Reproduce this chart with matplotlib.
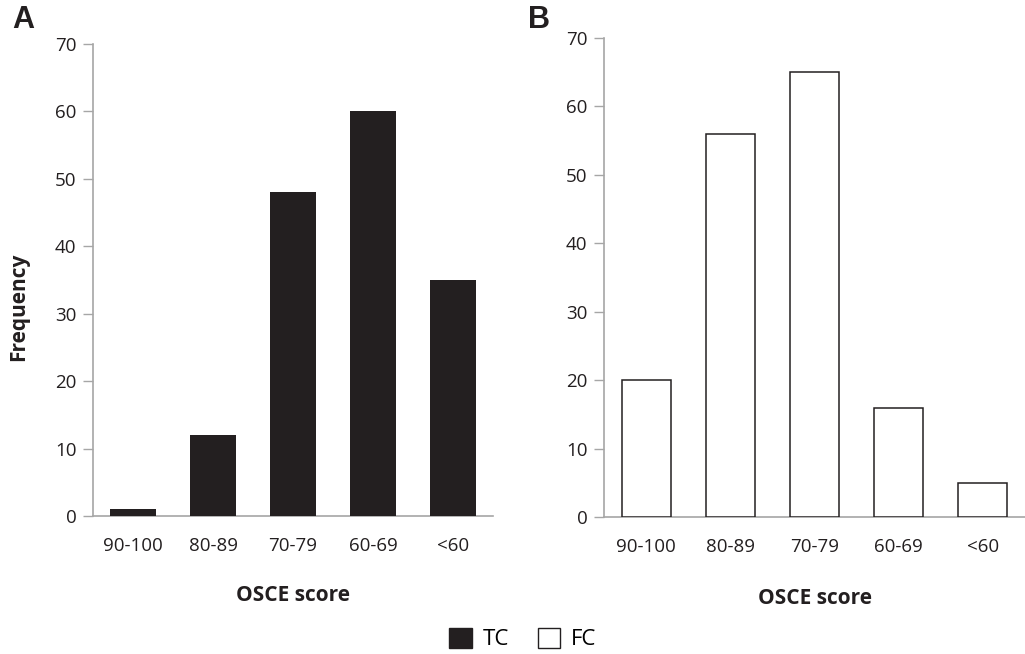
import matplotlib.pyplot as plt

# OSCE score categories and frequencies
categories = ['90-100', '80-89', '70-79', '60-69', '<60']
tc_freq = [1, 12, 48, 60, 35]
fc_freq = [20, 56, 65, 16, 5]
yticks = [0, 10, 20, 30, 40, 50, 60, 70]

plt.rcParams['font.family'] = ['Open Sans', 'DejaVu Sans']
dark = '#231f20'
grey = '#a6a6a6'

fig = plt.figure(figsize=(10.25, 6.54), dpi=100)
W, H = 1025, 654


def make_axes(left, right, top, bottom):
    return fig.add_axes([left / W, 1 - bottom / H, (right - left) / W, (bottom - top) / H])


def style(ax):
    ax.set_xlim(-0.5, 4.5)
    ax.set_ylim(0, 70)
    ax.set_yticks(yticks)
    ax.set_xticks(range(len(categories)))
    ax.set_xticklabels(categories)
    for s in ['top', 'right']:
        ax.spines[s].set_visible(False)
    for s in ['left', 'bottom']:
        ax.spines[s].set_color(grey)
        ax.spines[s].set_linewidth(1.2)
    ax.tick_params(axis='y', colors=grey, length=7, width=1, labelsize=13.5,
                   labelcolor=dark, pad=5)
    ax.tick_params(axis='x', length=0, labelsize=13.5, labelcolor=dark, pad=15)


# Panel A
axA = make_axes(93, 493, 44, 516)
axA.bar(range(len(categories)), tc_freq, width=0.575, color=dark, zorder=3)
style(axA)
axA.set_xlabel('OSCE score', fontsize=15, fontweight='bold', color=dark, labelpad=22)
axA.set_ylabel('Frequency', fontsize=15, fontweight='bold', color=dark)
axA.yaxis.set_label_coords(-64 / 400, (516 - 307) / 472)

# Panel B
axB = make_axes(604, 1025, 38, 517)
axB.bar(range(len(categories)), fc_freq, width=0.58, color='white',
        edgecolor=dark, linewidth=1.1, zorder=3)
style(axB)
axB.set_xlabel('OSCE score', fontsize=15, fontweight='bold', color=dark, labelpad=23)

# panel letters
fig.text(12 / W, 1 - 20 / H, 'A', fontsize=22, fontweight='bold', color=dark,
         family=['Liberation Sans', 'DejaVu Sans'], va='center')
fig.text(528 / W, 1 - 20 / H, 'B', fontsize=22, fontweight='bold', color=dark,
         family=['Liberation Sans', 'DejaVu Sans'], va='center')

# legend
tc_patch = plt.Rectangle((0, 0), 1, 1, facecolor=dark, edgecolor=dark)
fc_patch = plt.Rectangle((0, 0), 1, 1, facecolor='white', edgecolor=dark)
fig.legend([tc_patch, fc_patch], ['TC', 'FC'], loc='center',
           bbox_to_anchor=(523 / W, 1 - 639 / H), ncol=2, frameon=False,
           fontsize=16, handlelength=1.0, handleheight=1.0, columnspacing=1.3,
           handletextpad=0.5)

fig.savefig('out.png', dpi=100)
